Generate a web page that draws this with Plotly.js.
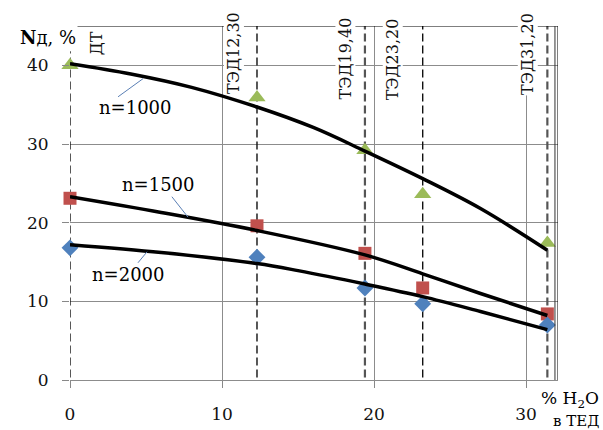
<!DOCTYPE html>
<html><head><meta charset="utf-8">
<script src="https://cdn.plot.ly/plotly-3.0.1.min.js"></script>
<style>body{margin:0;background:#fff}#c{width:603px;height:430px}</style>
</head><body><div id="c"></div>
<script>
// measured points
const xPts = [0, 12.3, 19.4, 23.2, 31.4];
const n1000 = [40.0, 35.9, 29.2, 23.6, 17.4];
const n1500 = [23.1, 19.6, 16.1, 11.7, 8.4];
const n2000 = [16.8, 15.6, 11.7, 9.7, 7.0];
// fitted curves as drawn in the picture
const c1000x = [0, 4, 8, 12.3, 16, 19.4, 23.2, 27, 31.4];
const c1000y = [40.2, 38.9, 37.2, 34.7, 32.1, 29.1, 25.6, 21.8, 16.5];
const c1500x = [0, 6, 12.3, 19.4, 23.2, 27, 31.4];
const c1500y = [23.3, 21.3, 19.0, 15.9, 13.5, 11.0, 8.2];
const c2000x = [0, 6, 12.3, 15, 19.4, 23.2, 27, 31.4];
const c2000y = [17.2, 16.2, 14.8, 13.9, 12.2, 10.6, 8.7, 6.4];
// vertical fuel markers
const fuelX = [0, 12.3, 19.4, 23.2, 31.4];
const fuelTop = [41.8, 45.4, 45.2, 45.0, 45.2];
const fuelLabels = ["ДТ", "ТЭД12,30", "ТЭД19,40", "ТЭД23,20", "ТЭД31,20"];
const fuelLabelX = [1.7, 10.8, 18.1, 21.2, 30.1];
const fuelLabelY = [42.8, 41.6, 40.9, 40.8, 41.4];
const seriesNames = ["n=1000", "n=1500", "n=2000"];
const xTicks = [0, 10, 20, 30];
const yTicks = [0, 10, 20, 30, 40];

const serif = "DejaVu Serif";
const traces = [];
fuelX.forEach((x, i) => {
  const gray = (i === 2 || i === 4);
  traces.push({x: [x, x], y: [-1.2, fuelTop[i]], mode: 'lines', cliponaxis: false, showlegend: false,
    hoverinfo: 'skip', line: {color: gray ? '#555' : '#111', width: gray ? 2.2 : 1.4, dash: '8px,4px'}});
});
const curves = [[c1000x, c1000y], [c1500x, c1500y], [c2000x, c2000y]];
traces.push({x: xPts, y: n1000, mode: 'markers', name: seriesNames[0], cliponaxis: false,
  marker: {symbol: 'triangle-up', size: 15, color: '#9BBB59'}});
traces.push({x: xPts, y: n1500, mode: 'markers', name: seriesNames[1], cliponaxis: false,
  marker: {symbol: 'square', size: 13, color: '#C0504D'}});
traces.push({x: xPts, y: n2000, mode: 'markers', name: seriesNames[2], cliponaxis: false,
  marker: {symbol: 'diamond', size: 13, color: '#4F81BD'}});
curves.forEach(c => traces.push({x: c[0], y: c[1], mode: 'lines', line: {color: '#000', width: 3.5, shape: 'spline'},
  cliponaxis: false, showlegend: false}));

const annotations = [];
fuelLabels.forEach((t, i) => annotations.push({x: fuelLabelX[i], y: fuelLabelY[i], xref: 'x', yref: 'y', text: t,
  showarrow: false, textangle: -90, bgcolor: '#fff', font: {family: serif, size: 16, color: '#111'}, borderpad: 0}));
annotations.push({x: 4.3, y: 34.6, xref: 'x', yref: 'y', text: seriesNames[0], showarrow: false, font: {family: serif, size: 18, color: '#000'}});
annotations.push({x: 5.8, y: 24.8, xref: 'x', yref: 'y', text: seriesNames[1], showarrow: false, font: {family: serif, size: 18, color: '#000'}});
annotations.push({x: 3.8, y: 13.4, xref: 'x', yref: 'y', text: seriesNames[2], showarrow: false, font: {family: serif, size: 18, color: '#000'}});
annotations.push({x: 0.55, y: 43.5, xref: 'x', yref: 'y', xanchor: 'right', text: '<b>N</b>д, %', showarrow: false, bgcolor: '#fff',
  font: {family: serif, size: 18, color: '#000'}});
annotations.push({x: 1.088, y: (380 - 399) / 354, xref: 'paper', yref: 'paper', xanchor: 'right', yanchor: 'middle', align: 'right',
  text: '% H<sub>2</sub>O', showarrow: false, font: {family: serif, size: 17, color: '#000'}});
annotations.push({x: 1.088, y: (380 - 421) / 354, xref: 'paper', yref: 'paper', xanchor: 'right', yanchor: 'middle', align: 'right',
  text: 'в ТЕД', showarrow: false, font: {family: serif, size: 15, color: '#000'}});

const leader = {color: '#5a7fb5', width: 1};
const shapes = [
  {type: 'line', xref: 'x', yref: 'y', x0: 3.16, y0: 36.0, x1: 4.8, y1: 38.3, line: leader},
  {type: 'line', xref: 'x', yref: 'y', x0: 6.7, y0: 23.3, x1: 7.76, y1: 20.7, line: leader},
  {type: 'line', xref: 'x', yref: 'y', x0: 4.47, y0: 14.9, x1: 5.07, y1: 16.3, line: leader},
  {type: 'line', xref: 'x', yref: 'y', x0: 0.45, y0: 45, x1: 32.1, y1: 45, line: {color: '#000', width: 1}},
  {type: 'line', xref: 'x', yref: 'y', x0: 32.1, y0: 0, x1: 32.1, y1: 45, line: {color: '#000', width: 1}},
  {type: 'line', xref: 'x', yref: 'y', x0: 31.9, y0: 0, x1: 31.9, y1: 45, line: {color: '#333', width: 1}}
];

const layout = {
  width: 603, height: 430, paper_bgcolor: '#fff', plot_bgcolor: '#fff', showlegend: false,
  margin: {l: 70, r: 45, t: 26, b: 50},
  font: {family: serif, size: 17, color: '#111'},
  xaxis: {range: [0, 32.1], tickvals: xTicks, ticks: 'outside', ticklen: 7, tickcolor: '#888', showgrid: true,
    gridcolor: '#8c8c8c', zeroline: false, showline: false, ticklabelstandoff: 12, tickfont: {family: serif, size: 17, color: '#111'}},
  yaxis: {range: [0, 45], tickvals: yTicks, ticks: 'outside', ticklen: 7, tickcolor: '#888', showgrid: true,
    gridcolor: '#8c8c8c', zeroline: true, zerolinecolor: '#8c8c8c', zerolinewidth: 1, showline: false,
    ticklabelstandoff: 10, tickfont: {family: serif, size: 17, color: '#111'}},
  annotations: annotations, shapes: shapes
};
Plotly.newPlot('c', traces, layout, {displayModeBar: false, staticPlot: true});
</script></body></html>
